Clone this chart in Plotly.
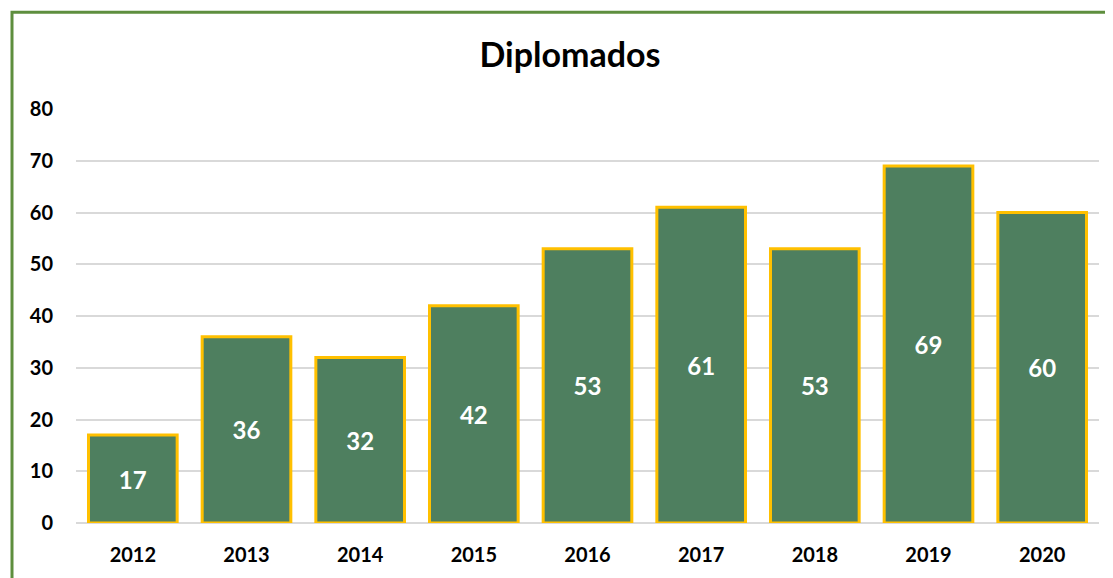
import plotly.graph_objects as go

years = ["2012", "2013", "2014", "2015", "2016", "2017", "2018", "2019", "2020"]
diplomados = [17, 36, 32, 42, 53, 61, 53, 69, 60]
y_ticks = [0, 10, 20, 30, 40, 50, 60, 70, 80]

FONT = "Lato"

fig = go.Figure()
fig.add_trace(go.Bar(
    x=years,
    y=diplomados,
    text=[str(v) for v in diplomados],
    textposition="inside",
    insidetextanchor="middle",
    textangle=0,
    textfont=dict(family=FONT, size=24, color="white", weight="bold"),
    marker=dict(color="#4E7F5F", line=dict(color="#FFC000", width=3)),
    cliponaxis=False,
))

fig.update_layout(
    width=1105,
    height=570,
    margin=dict(l=68, r=14, t=101, b=47),
    paper_bgcolor="white",
    plot_bgcolor="white",
    bargap=0.22,
    showlegend=False,
    title=dict(
        text="Diplomados",
        x=562 / 1105, xanchor="center", xref="container",
        y=1 - 47 / 570, yanchor="middle", yref="container",
        font=dict(family=FONT, size=34, color="black", weight="bold"),
    ),
    xaxis=dict(
        showgrid=False, showline=False, zeroline=False,
        ticks="outside", ticklen=14, tickcolor="rgba(0,0,0,0)",
        tickfont=dict(family=FONT, size=20, color="black", weight="bold"),
    ),
    yaxis=dict(
        range=[0, 80],
        tickvals=y_ticks,
        showgrid=True, gridcolor="#D9D9D9", gridwidth=1.5,
        zeroline=True, zerolinecolor="#D9D9D9", zerolinewidth=1.5,
        showline=False,
        ticks="outside", ticklen=18, tickcolor="rgba(0,0,0,0)",
        tickfont=dict(family=FONT, size=20, color="black", weight="bold"),
    ),
    shapes=[dict(
        type="rect", xref="paper", yref="paper",
        x0=(4 - 68) / 1023, x1=1.2,
        y0=-0.5, y1=(422 + 101 - 2.5) / 422,
        line=dict(color="#5E8E3E", width=3),
        fillcolor="rgba(0,0,0,0)", layer="below",
    )],
)

fig.write_html("out.html")
